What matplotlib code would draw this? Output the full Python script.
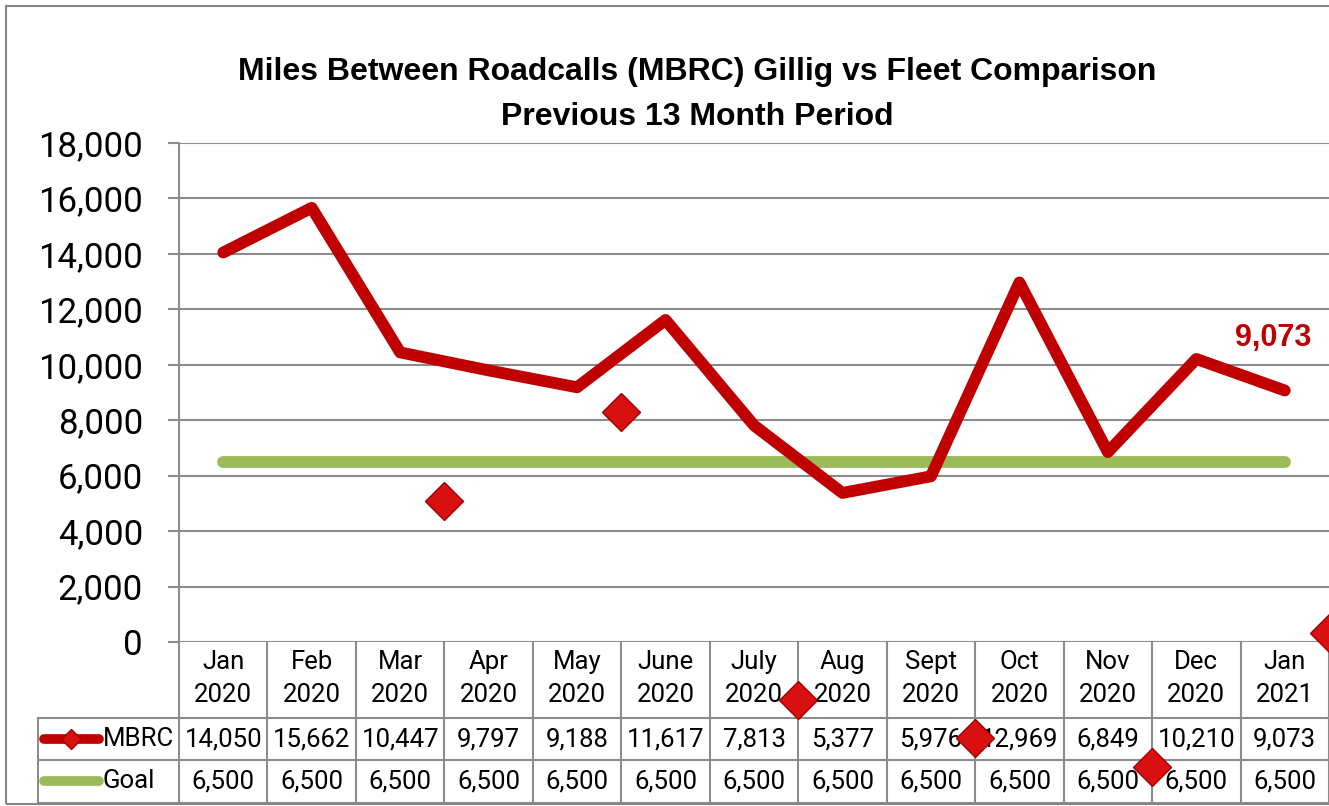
import matplotlib
matplotlib.use("Agg")
import matplotlib.pyplot as plt
import matplotlib.transforms as mtransforms
from matplotlib.patches import Rectangle

# ---- data ----
months = ["Jan\n2020", "Feb\n2020", "Mar\n2020", "Apr\n2020", "May\n2020", "June\n2020",
          "July\n2020", "Aug\n2020", "Sept\n2020", "Oct\n2020", "Nov\n2020", "Dec\n2020",
          "Jan\n2021"]
mbrc = [14050, 15662, 10447, 9797, 9188, 11617, 7813, 5377, 5976, 12969, 6849, 10210, 9073]
goal = [6500] * 13
# stray diamond markers seen in the picture (position index, value)
stray_x = [2.5, 4.5, 6.5, 8.5, 10.5, 12.5]
stray_y = [5100, 8300, -2100, -3450, -4520, 320]
yticks = list(range(0, 18001, 2000))
title_lines = ["Miles Between Roadcalls (MBRC) Gillig vs Fleet Comparison",
               "Previous 13 Month Period"]

RED = "#C00000"
GREEN = "#9BBB59"
GRID = "#8C8C8C"
FONT = ["Roboto", "Liberation Sans", "DejaVu Sans"]
BOLD = ["Liberation Sans", "DejaVu Sans"]

W, H = 1329, 806
fig = plt.figure(figsize=(W / 100, H / 100), dpi=100)
L, T, R, B = 179, 143, 1329, 642
ax = fig.add_axes([L / W, 1 - B / H, (R - L) / W, (B - T) / H])
n = len(months)
ax.set_xlim(-0.5, n - 0.5)
ax.set_ylim(0, 18000)
for s in ax.spines.values():
    s.set_visible(False)
ax.set_xticks([])
ax.set_yticks(yticks)
ax.set_yticklabels([f"{v:,}" for v in yticks], fontfamily=FONT, fontsize=25)
ax.tick_params(axis="y", length=8, width=1.5, color=GRID, pad=18)
for v in yticks:
    ax.axhline(v, color=GRID, lw=1.5, zorder=1)
ax.plot([-0.5, -0.5], [0, 1], transform=ax.get_xaxis_transform(), color=GRID, lw=1.5,
        clip_on=False, zorder=1)

x = list(range(n))
ax.plot(x, goal, color=GREEN, lw=8.5, solid_capstyle="round", zorder=3)
ax.plot(x, mbrc, color=RED, lw=8.5, solid_capstyle="round", solid_joinstyle="round", zorder=4)
ax.plot(stray_x, stray_y, ls="none", marker="D", ms=19, mfc="#D91010", mec="#A00000",
        mew=1.0, clip_on=False, zorder=10)

ax.annotate(f"{mbrc[-1]:,}", xy=(x[-1], mbrc[-1]), xytext=(-8, 38), textcoords="offset points",
            ha="center", va="center", color=RED, fontsize=22, fontweight="bold",
            fontfamily=BOLD)

fig.text(697 / W, 1 - 72 / H, title_lines[0], ha="center", va="center", fontsize=23,
         fontweight="bold", fontfamily=BOLD)
fig.text(697 / W, 1 - 117 / H, title_lines[1], ha="center", va="center", fontsize=23,
         fontweight="bold", fontfamily=BOLD)

# ---- data table ----
tr = mtransforms.blended_transform_factory(ax.transData, ax.transAxes)
def yf(py):
    return (B - py) / (B - T)

pxu = (R - L) / n
def xd(px):
    return (px - L) / pxu - 0.5

y_head, y_r1, y_r2, y_bot = yf(642), yf(718), yf(760), yf(803)
xleg = xd(38)
for yy in [y_r1, y_r2, y_bot]:
    ax.plot([xleg, n - 0.5], [yy, yy], transform=tr, color=GRID, lw=1.5, clip_on=False)
for i in range(n + 1):
    ax.plot([i - 0.5, i - 0.5], [y_head, y_bot], transform=tr, color=GRID, lw=1.5, clip_on=False)
ax.plot([xleg, xleg], [y_r1, y_bot], transform=tr, color=GRID, lw=1.5, clip_on=False)

FS = 18.5
for i, lab in enumerate(months):
    a, b = lab.split("\n")
    ax.text(i, yf(662), a, transform=tr, ha="center", va="center", fontsize=FS, fontfamily=FONT)
    ax.text(i, yf(695), b, transform=tr, ha="center", va="center", fontsize=FS, fontfamily=FONT)
    ax.text(i, yf(739), f"{mbrc[i]:,}", transform=tr, ha="center", va="center", fontsize=FS,
            fontfamily=FONT)
    ax.text(i, yf(781), f"{goal[i]:,}", transform=tr, ha="center", va="center", fontsize=FS,
            fontfamily=FONT)

# legend keys
ax.plot([xd(44), xd(99)], [yf(739), yf(739)], transform=tr, color=RED, lw=7,
        solid_capstyle="round", clip_on=False)
ax.plot([xd(71)], [yf(739)], transform=tr, marker="D", ms=10, mfc="#D91010", mec="#A00000",
        clip_on=False)
ax.plot([xd(44), xd(99)], [yf(781), yf(781)], transform=tr, color=GREEN, lw=7,
        solid_capstyle="round", clip_on=False)
ax.text(xd(103), yf(739), "MBRC", transform=tr, ha="left", va="center", fontsize=FS, fontfamily=FONT)
ax.text(xd(103), yf(781), "Goal", transform=tr, ha="left", va="center", fontsize=FS, fontfamily=FONT)

# outer chart border
fig.add_artist(Rectangle((6 / W, 1 - 804 / H), 1.0, (804 - 6) / H, transform=fig.transFigure,
                         fill=False, ec="#868686", lw=1.5))

fig.savefig("out.png", dpi=100, facecolor="white")
